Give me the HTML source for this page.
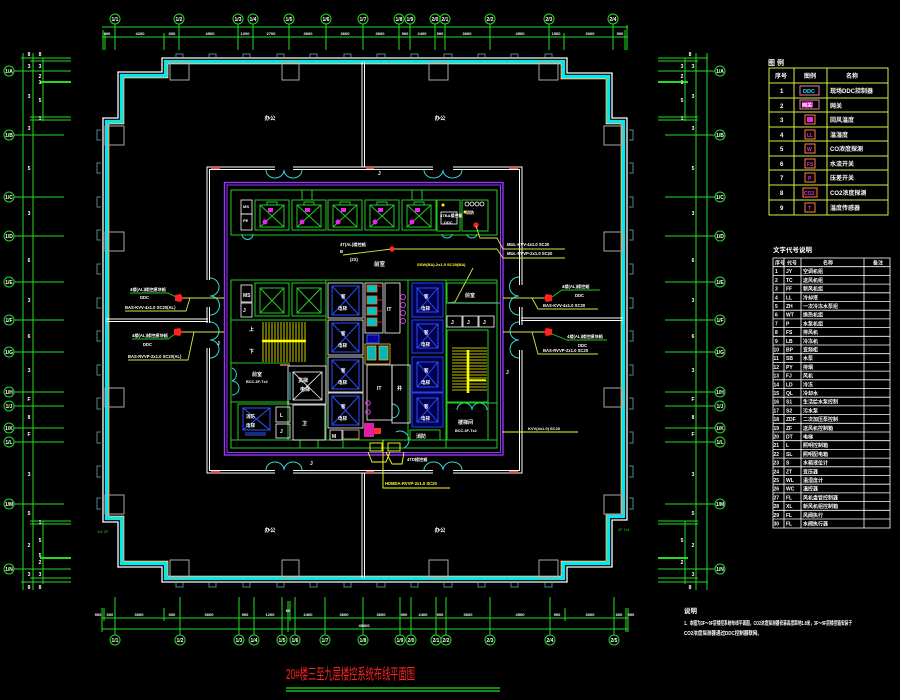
<!DOCTYPE html>
<html><head><meta charset="utf-8">
<style>
html,body{margin:0;padding:0;background:#000;width:900px;height:700px;overflow:hidden}
svg{display:block}
text{font-family:"Liberation Sans","Noto Sans CJK SC",sans-serif}
</style></head><body>
<svg width="900" height="700" viewBox="0 0 900 700" xmlns="http://www.w3.org/2000/svg">
<rect width="900" height="700" fill="#000"/>

<!-- ============ TOP DIMENSIONS ============ -->
<g stroke="#22dd22" stroke-width="1" fill="none">
  <line x1="102" y1="27" x2="628" y2="27"/>
  <line x1="102" y1="37" x2="628" y2="37"/>
  <line x1="103" y1="30" x2="103" y2="50"/><line x1="105" y1="33" x2="105" y2="50"/>
  <line x1="164" y1="33" x2="164" y2="50"/><line x1="564" y1="33" x2="564" y2="50"/>
  <line x1="625" y1="30" x2="625" y2="50"/><line x1="627" y1="25" x2="627" y2="50"/>
  <g>
    <line x1="115" y1="24" x2="115" y2="50"/><line x1="179" y1="24" x2="179" y2="50"/>
    <line x1="238" y1="24" x2="238" y2="50"/><line x1="253" y1="24" x2="253" y2="50"/>
    <line x1="289" y1="24" x2="289" y2="50"/><line x1="326" y1="24" x2="326" y2="50"/>
    <line x1="363" y1="24" x2="363" y2="50"/><line x1="399" y1="24" x2="399" y2="50"/>
    <line x1="410" y1="24" x2="410" y2="50"/><line x1="435" y1="24" x2="435" y2="50"/>
    <line x1="445" y1="24" x2="445" y2="50"/><line x1="490" y1="24" x2="490" y2="50"/>
    <line x1="549" y1="24" x2="549" y2="50"/><line x1="613" y1="24" x2="613" y2="50"/>
  </g>
  <g>
    <circle cx="115" cy="19" r="5"/><circle cx="179" cy="19" r="5"/><circle cx="238" cy="19" r="5"/>
    <circle cx="253" cy="19" r="5"/><circle cx="289" cy="19" r="5"/><circle cx="326" cy="19" r="5"/>
    <circle cx="363" cy="19" r="5"/><circle cx="399" cy="19" r="5"/><circle cx="410" cy="19" r="5"/>
    <circle cx="435" cy="19" r="5"/><circle cx="445" cy="19" r="5"/><circle cx="490" cy="19" r="5"/>
    <circle cx="549" cy="19" r="5"/><circle cx="613" cy="19" r="5"/>
  </g>
</g>
<g fill="#fff" font-size="5" font-weight="bold" text-anchor="middle">
  <text x="115" y="21">1/1</text><text x="179" y="21">1/2</text><text x="238" y="21">1/3</text>
  <text x="253" y="21">1/4</text><text x="289" y="21">1/5</text><text x="326" y="21">1/6</text>
  <text x="363" y="21">1/7</text><text x="399" y="21">1/8</text><text x="410" y="21">1/9</text>
  <text x="435" y="21">2/0</text><text x="445" y="21">2/1</text><text x="490" y="21">2/2</text>
  <text x="549" y="21">2/3</text><text x="613" y="21">2/4</text>
</g>
<g fill="#fff" font-size="4" font-weight="bold" text-anchor="middle">
  <text x="107" y="35">900</text><text x="140" y="35">4200</text><text x="172" y="35">600</text>
  <text x="210" y="35">4500</text><text x="245" y="35">1200</text><text x="271" y="35">2700</text>
  <text x="308" y="35">3600</text><text x="345" y="35">3600</text><text x="380" y="35">3600</text>
  <text x="405" y="35">900</text><text x="422" y="35">2400</text><text x="440" y="35">900</text>
  <text x="467" y="35">3600</text><text x="520" y="35">4500</text><text x="556" y="35">1500</text>
  <text x="590" y="35">3000</text><text x="620" y="35">900</text>
</g>

<!-- ============ BOTTOM DIMENSIONS ============ -->
<g stroke="#22dd22" stroke-width="1" fill="none">
  <line x1="102" y1="618" x2="628" y2="618"/>
  <line x1="102" y1="629" x2="628" y2="629"/>
  <line x1="102" y1="608" x2="102" y2="632"/><line x1="104" y1="608" x2="104" y2="621"/>
  <line x1="164" y1="608" x2="164" y2="621"/><line x1="288" y1="601" x2="288" y2="632"/>
  <line x1="290" y1="601" x2="290" y2="621"/><line x1="565" y1="608" x2="565" y2="621"/>
  <line x1="626" y1="608" x2="626" y2="632"/><line x1="628" y1="608" x2="628" y2="632"/>
  <g>
    <line x1="115" y1="597" x2="115" y2="635"/><line x1="180" y1="597" x2="180" y2="635"/>
    <line x1="239" y1="597" x2="239" y2="635"/><line x1="254" y1="597" x2="254" y2="635"/>
    <line x1="282" y1="597" x2="282" y2="635"/><line x1="295" y1="597" x2="295" y2="635"/>
    <line x1="325" y1="597" x2="325" y2="635"/><line x1="363" y1="597" x2="363" y2="635"/>
    <line x1="400" y1="597" x2="400" y2="635"/><line x1="411" y1="597" x2="411" y2="635"/>
    <line x1="436" y1="597" x2="436" y2="635"/><line x1="446" y1="597" x2="446" y2="635"/>
    <line x1="490" y1="597" x2="490" y2="635"/><line x1="550" y1="597" x2="550" y2="635"/>
    <line x1="614" y1="597" x2="614" y2="635"/>
  </g>
  <g>
    <circle cx="115" cy="640" r="5"/><circle cx="180" cy="640" r="5"/><circle cx="239" cy="640" r="5"/>
    <circle cx="254" cy="640" r="5"/><circle cx="282" cy="640" r="5"/><circle cx="295" cy="640" r="5"/>
    <circle cx="325" cy="640" r="5"/><circle cx="363" cy="640" r="5"/><circle cx="400" cy="640" r="5"/>
    <circle cx="411" cy="640" r="5"/><circle cx="436" cy="640" r="5"/><circle cx="446" cy="640" r="5"/>
    <circle cx="490" cy="640" r="5"/><circle cx="550" cy="640" r="5"/><circle cx="614" cy="640" r="5"/>
  </g>
</g>
<g fill="#fff" font-size="5" font-weight="bold" text-anchor="middle">
  <text x="115" y="642">1/1</text><text x="180" y="642">1/2</text><text x="239" y="642">1/3</text>
  <text x="254" y="642">1/4</text><text x="282" y="642">1/5</text><text x="295" y="642">1/6</text>
  <text x="325" y="642">1/7</text><text x="363" y="642">1/8</text><text x="400" y="642">1/9</text>
  <text x="411" y="642">2/0</text><text x="436" y="642">2/1</text><text x="446" y="642">2/2</text>
  <text x="490" y="642">2/3</text><text x="550" y="642">2/4</text><text x="614" y="642">2/5</text>
</g>
<g fill="#fff" font-size="4" font-weight="bold" text-anchor="middle">
  <text x="98" y="616">900</text><text x="110" y="616">600</text><text x="139" y="616">3000</text>
  <text x="172" y="616">600</text><text x="209" y="616">3600</text><text x="245" y="616">900</text>
  <text x="270" y="616">1200</text><text x="288" y="612">60</text><text x="308" y="616">2400</text>
  <text x="344" y="616">3600</text><text x="381" y="616">3600</text><text x="404" y="616">900</text>
  <text x="423" y="616">2400</text><text x="440" y="616">900</text><text x="468" y="616">3600</text>
  <text x="520" y="616">4500</text><text x="557" y="616">900</text><text x="590" y="616">3000</text>
  <text x="619" y="616">600</text><text x="631" y="616">900</text>
  <text x="364" y="627">45300</text>
</g>

<!-- ============ LEFT DIMENSIONS ============ -->
<g stroke="#22dd22" stroke-width="1" fill="none">
  <line x1="23" y1="53" x2="23" y2="590"/>
  <line x1="33" y1="53" x2="33" y2="590"/>
  <line x1="43" y1="58" x2="43" y2="121"/>
  <line x1="43" y1="521" x2="43" y2="584"/>
  <line x1="21" y1="58" x2="71" y2="58"/>
  <line x1="30" y1="61" x2="71" y2="61"/>
  <line x1="40" y1="82" x2="71" y2="82" stroke-width="2"/>
  <line x1="30" y1="117" x2="71" y2="117"/>
  <line x1="30" y1="120" x2="71" y2="120"/>
  <line x1="30" y1="521" x2="71" y2="521"/>
  <line x1="30" y1="524" x2="71" y2="524"/>
  <line x1="40" y1="558" x2="71" y2="558" stroke-width="2"/>
  <line x1="30" y1="578" x2="71" y2="578"/>
  <line x1="21" y1="582" x2="71" y2="582"/>
  <g>
    <line x1="14" y1="71" x2="71" y2="71"/><line x1="14" y1="135" x2="64" y2="135"/>
    <line x1="14" y1="197" x2="64" y2="197"/><line x1="14" y1="236" x2="64" y2="236"/>
    <line x1="14" y1="282" x2="64" y2="282"/><line x1="14" y1="320" x2="64" y2="320"/>
    <line x1="14" y1="352" x2="64" y2="352"/><line x1="14" y1="392" x2="64" y2="392"/>
    <line x1="14" y1="406" x2="64" y2="406"/><line x1="14" y1="428" x2="64" y2="428"/>
    <line x1="14" y1="442" x2="64" y2="442"/><line x1="14" y1="504" x2="64" y2="504"/>
    <line x1="14" y1="569" x2="71" y2="569"/>
  </g>
  <g>
    <circle cx="9" cy="71" r="5"/><circle cx="9" cy="135" r="5"/><circle cx="9" cy="197" r="5"/>
    <circle cx="9" cy="236" r="5"/><circle cx="9" cy="282" r="5"/><circle cx="9" cy="320" r="5"/>
    <circle cx="9" cy="352" r="5"/><circle cx="9" cy="392" r="5"/><circle cx="9" cy="406" r="5"/>
    <circle cx="9" cy="428" r="5"/><circle cx="9" cy="442" r="5"/><circle cx="9" cy="504" r="5"/>
    <circle cx="9" cy="569" r="5"/>
  </g>
</g>
<g fill="#fff" font-size="5" font-weight="bold" text-anchor="middle">
  <text x="9" y="73">1/A</text><text x="9" y="137">1/B</text><text x="9" y="199">1/C</text>
  <text x="9" y="238">1/D</text><text x="9" y="284">1/E</text><text x="9" y="322">1/F</text>
  <text x="9" y="354">1/G</text><text x="9" y="394">1/H</text><text x="9" y="408">1/J</text>
  <text x="9" y="430">1/K</text><text x="9" y="444">1/L</text><text x="9" y="506">1/M</text>
  <text x="9" y="571">1/N</text>
  <text x="29" y="56">8</text><text x="40" y="56">8</text><text x="29" y="68">3</text><text x="40" y="68">3</text>
  <text x="40" y="78">2</text><text x="40" y="84">1</text><text x="29" y="98">3</text><text x="40" y="102">5</text>
  <text x="40" y="120">1</text><text x="29" y="130">3</text><text x="29" y="170">5</text>
  <text x="29" y="215">3</text><text x="29" y="262">6</text><text x="29" y="302">3</text>
  <text x="29" y="338">6</text><text x="29" y="372">3</text>
  <text x="29" y="401">F</text><text x="29" y="419">8</text><text x="29" y="436">F</text>
  <text x="29" y="476">3</text><text x="29" y="515">5</text><text x="40" y="524">1</text>
  <text x="40" y="542">5</text><text x="29" y="547">2</text><text x="40" y="557">5</text>
  <text x="40" y="564">2</text><text x="29" y="576">3</text><text x="40" y="576">3</text>
  <text x="29" y="589">8</text><text x="40" y="589">8</text>
</g>

<!-- ============ RIGHT DIMENSIONS ============ -->
<g stroke="#22dd22" stroke-width="1" fill="none">
  <line x1="696" y1="53" x2="696" y2="590"/>
  <line x1="707" y1="53" x2="707" y2="590"/>
  <line x1="685" y1="58" x2="685" y2="121"/>
  <line x1="685" y1="521" x2="685" y2="584"/>
  <line x1="658" y1="58" x2="708" y2="58"/>
  <line x1="658" y1="61" x2="698" y2="61"/>
  <line x1="658" y1="82" x2="688" y2="82" stroke-width="2"/>
  <line x1="658" y1="117" x2="698" y2="117"/>
  <line x1="658" y1="120" x2="698" y2="120"/>
  <line x1="658" y1="521" x2="698" y2="521"/>
  <line x1="658" y1="524" x2="698" y2="524"/>
  <line x1="658" y1="558" x2="688" y2="558" stroke-width="2"/>
  <line x1="658" y1="578" x2="698" y2="578"/>
  <line x1="658" y1="582" x2="708" y2="582"/>
  <g>
    <line x1="658" y1="71" x2="715" y2="71"/><line x1="665" y1="135" x2="715" y2="135"/>
    <line x1="665" y1="197" x2="715" y2="197"/><line x1="665" y1="236" x2="715" y2="236"/>
    <line x1="665" y1="282" x2="715" y2="282"/><line x1="665" y1="320" x2="715" y2="320"/>
    <line x1="665" y1="352" x2="715" y2="352"/><line x1="665" y1="392" x2="715" y2="392"/>
    <line x1="665" y1="406" x2="715" y2="406"/><line x1="665" y1="428" x2="715" y2="428"/>
    <line x1="665" y1="442" x2="715" y2="442"/><line x1="665" y1="504" x2="715" y2="504"/>
    <line x1="658" y1="569" x2="715" y2="569"/>
  </g>
  <g>
    <circle cx="720" cy="71" r="5"/><circle cx="720" cy="135" r="5"/><circle cx="720" cy="197" r="5"/>
    <circle cx="720" cy="236" r="5"/><circle cx="720" cy="282" r="5"/><circle cx="720" cy="320" r="5"/>
    <circle cx="720" cy="352" r="5"/><circle cx="720" cy="392" r="5"/><circle cx="720" cy="406" r="5"/>
    <circle cx="720" cy="428" r="5"/><circle cx="720" cy="442" r="5"/><circle cx="720" cy="504" r="5"/>
    <circle cx="720" cy="569" r="5"/>
  </g>
</g>
<g fill="#fff" font-size="5" font-weight="bold" text-anchor="middle">
  <text x="720" y="73">1/A</text><text x="720" y="137">1/B</text><text x="720" y="199">1/C</text>
  <text x="720" y="238">1/D</text><text x="720" y="284">1/E</text><text x="720" y="322">1/F</text>
  <text x="720" y="354">1/G</text><text x="720" y="394">1/H</text><text x="720" y="408">1/J</text>
  <text x="720" y="430">1/K</text><text x="720" y="444">1/L</text><text x="720" y="506">1/M</text>
  <text x="720" y="571">1/N</text>
  <text x="690" y="56">8</text><text x="682" y="68">3</text><text x="693" y="68">3</text>
  <text x="682" y="78">2</text><text x="682" y="84">1</text><text x="693" y="98">3</text>
  <text x="682" y="102">5</text><text x="682" y="120">1</text><text x="693" y="130">3</text>
  <text x="693" y="170">5</text><text x="693" y="215">3</text><text x="693" y="262">6</text>
  <text x="693" y="302">3</text><text x="693" y="338">6</text><text x="693" y="372">3</text>
  <text x="693" y="401">F</text><text x="693" y="419">8</text><text x="693" y="436">F</text>
  <text x="693" y="476">3</text><text x="693" y="515">5</text><text x="682" y="542">5</text>
  <text x="693" y="547">2</text><text x="682" y="564">2</text><text x="693" y="576">3</text>
  <text x="690" y="589">8</text>
</g>

<!-- ============ BUILDING OUTER WALL ============ -->
<g stroke="#4f8a8a" stroke-width="1" fill="none">
  <path d="M176,57 V54 H183 V57 M209,57 V54 H216 V57 M243,57 V54 H250 V57 M277,57 V54 H284 V57 M310,57 V54 H317 V57 M344,57 V54 H351 V57 M377,57 V54 H385 V57 M411,57 V54 H418 V57 M444,57 V54 H452 V57 M478,57 V54 H485 V57 M511,57 V54 H518 V57 M545,57 V54 H552 V57"/>
  <path d="M176,583 V587 H183 V583 M209,583 V587 H216 V583 M243,583 V587 H250 V583 M277,583 V587 H284 V583 M310,583 V587 H317 V583 M344,583 V587 H351 V583 M377,583 V587 H385 V583 M411,583 V587 H418 V583 M444,583 V587 H452 V583 M478,583 V587 H485 V583 M511,583 V587 H518 V583 M545,583 V587 H552 V583"/>
  <path d="M101,130 H97 V140 H101 M101,163 H97 V173 H101 M101,197 H97 V207 H101 M101,230 H97 V240 H101 M101,264 H97 V274 H101 M101,298 H97 V308 H101 M101,331 H97 V341 H101 M101,365 H97 V375 H101 M101,398 H97 V409 H101 M101,432 H97 V443 H101 M101,466 H97 V477 H101 M101,498 H97 V509 H101"/>
  <path d="M629,130 H633 V140 H629 M629,163 H633 V173 H629 M629,197 H633 V207 H629 M629,230 H633 V240 H629 M629,264 H633 V274 H629 M629,298 H633 V308 H629 M629,331 H633 V341 H629 M629,365 H633 V375 H629 M629,398 H633 V409 H629 M629,432 H633 V443 H629 M629,466 H633 V477 H629 M629,498 H633 V509 H629"/>
</g>
<path d="M162,58 H567 V73 H612 V118 H627 V520 H612 V567 H567 V582 H162 V567 H118 V522 H103 V118 H118 V72 H162 Z" fill="none" stroke="#ffffff" stroke-width="1.3"/>
<path d="M165.5,61.5 H563.5 V76.5 H608.5 V121.5 H623.5 V516.5 H608.5 V563.5 H563.5 V578.5 H165.5 V563.5 H121.5 V518.5 H106.5 V121.5 H121.5 V75.5 H165.5 Z" fill="none" stroke="#00e8f0" stroke-width="3.2"/>
<path d="M167.8,63.8 H561.2 V78.8 H606.2 V123.8 H621.2 V514.2 H606.2 V561.2 H561.2 V576.2 H167.8 V561.2 H123.8 V516.2 H108.8 V123.8 H123.8 V77.8 H167.8 Z" fill="none" stroke="#ffffb0" stroke-width="1"/>

<g stroke="#a8a8a8" stroke-width="1" fill="none">
  <rect x="170" y="62" width="19" height="18"/><rect x="282" y="62" width="17" height="18"/>
  <rect x="429" y="62" width="19" height="18"/><rect x="539" y="62" width="19" height="18"/>
  <rect x="170" y="560" width="19" height="18"/><rect x="282" y="560" width="17" height="18"/>
  <rect x="429" y="560" width="19" height="18"/><rect x="539" y="560" width="19" height="18"/>
  <rect x="105" y="126" width="19" height="19"/><rect x="105" y="232" width="19" height="19"/>
  <rect x="105" y="388" width="19" height="19"/><rect x="105" y="495" width="19" height="19"/>
  <rect x="604" y="126" width="19" height="19"/><rect x="604" y="232" width="19" height="19"/>
  <rect x="604" y="388" width="19" height="19"/><rect x="604" y="495" width="19" height="19"/>
</g>

<g stroke="#ffffff" stroke-width="1" fill="none">
  <line x1="362" y1="62" x2="362" y2="167"/><line x1="364.5" y1="62" x2="364.5" y2="167"/>
  <line x1="362" y1="473" x2="362" y2="578"/><line x1="364.5" y1="473" x2="364.5" y2="578"/>
  <line x1="106" y1="319" x2="208" y2="319"/><line x1="106" y1="321.5" x2="208" y2="321.5"/>
  <line x1="521" y1="318" x2="623" y2="318"/><line x1="521" y1="320.5" x2="623" y2="320.5"/>
</g>

<g fill="#fff" font-size="5.5" font-weight="bold" text-anchor="middle">
  <text x="270" y="120">办公</text><text x="440" y="120">办公</text>
  <text x="270" y="532">办公</text><text x="440" y="532">办公</text>
</g>
<g fill="#22dd22" font-size="4">
  <text x="97" y="533">1/4 2F</text><text x="618" y="531">2F 1/4</text>
</g>

<!-- ============ CORE ============ -->
<g stroke="#ffffff" stroke-width="1" fill="none">
  <path d="M275,167 H207 V280 M207,307 V323 M207,348 V473 H275 M293,473 H433 M453,473 H522 V350 M522,325 V307 M522,285 V167 H453 M433,167 H293"/>
  <path d="M275,169.5 H209.5 V280 M209.5,307 V323 M209.5,348 V470.5 H275 M293,470.5 H433 M453,470.5 H519.5 V350 M519.5,325 V307 M519.5,285 V169.5 H453 M433,169.5 H293"/>
</g>
<g fill="#c85858">
  <rect x="211" y="166" width="9" height="3"/><rect x="366" y="166" width="8" height="3"/><rect x="509" y="166" width="9" height="3"/>
  <rect x="211" y="471" width="9" height="3"/><rect x="366" y="471" width="8" height="3"/><rect x="509" y="471" width="9" height="3"/>
</g>
<g stroke="#30d8d8" stroke-width="1" fill="none">
  <path d="M266,170 A9,8 0 0 0 284,170 A9,8 0 0 0 302,170"/>
  <path d="M424,170 A9.5,8 0 0 0 443,170 A9.5,8 0 0 0 462,170"/>
  <path d="M266,470 A9,8 0 0 1 284,470 A9,8 0 0 1 302,470"/>
  <path d="M424,470 A9.5,8 0 0 1 443,470 A9.5,8 0 0 1 462,470"/>
  <path d="M210,278 A9,9 0 0 1 210,296 A9,9 0 0 1 210,315"/>
  <path d="M210,322 A9,9 0 0 1 210,340 A9,9 0 0 1 210,358"/>
  <path d="M519,277 A9,9 0 0 0 519,296 A9,9 0 0 0 519,315"/>
  <path d="M519,322 A9,9 0 0 0 519,340 A9,9 0 0 0 519,358"/>
  <path d="M242,234 A5,5 0 0 0 253,234"/>
  <path d="M442,234 A5,4 0 0 0 452,234 M467,234 A5,4 0 0 0 477,234"/>
  <path d="M457,410 A7.5,7 0 0 1 472,410 A7.5,7 0 0 1 487,410"/>
  <path d="M232,368 A7,7 0 0 1 232,381 A7,7 0 0 1 232,395"/>
  <path d="M392,404 A7,7 0 0 1 392,418"/>
  <path d="M396,432 A8,8 0 0 1 404,448"/>
  <path d="M290,372 V400"/>
</g>

<rect x="224.5" y="182.5" width="278.5" height="272.5" fill="none" stroke="#9933ff" stroke-width="1.4"/>
<rect x="227" y="185" width="273.5" height="267.5" fill="none" stroke="#9933ff" stroke-width="1"/>

<g stroke="#22cc22" stroke-width="1" fill="none">
  <rect x="231" y="190" width="266" height="45"/>
  <rect x="302" y="190" width="10" height="10"/><rect x="412" y="190" width="10" height="10"/>
  <rect x="255" y="200" width="34" height="30"/><rect x="292" y="200" width="34" height="30"/>
  <rect x="328" y="200" width="34" height="30"/><rect x="365" y="200" width="34" height="30"/>
  <rect x="402" y="200" width="34" height="30"/>
  <rect x="260" y="205" width="24" height="22"/><rect x="297" y="205" width="24" height="22"/>
  <rect x="333" y="205" width="24" height="22"/><rect x="370" y="205" width="24" height="22"/>
  <rect x="407" y="205" width="24" height="22"/>
  <path d="M260,205 L284,227 M284,205 L260,227 M297,205 L321,227 M321,205 L297,227 M333,205 L357,227 M357,205 L333,227 M370,205 L394,227 M394,205 L370,227 M407,205 L431,227 M431,205 L407,227"/>
  <rect x="267" y="202" width="10" height="3"/><rect x="304" y="202" width="10" height="3"/>
  <rect x="340" y="202" width="10" height="3"/><rect x="377" y="202" width="10" height="3"/>
  <rect x="414" y="202" width="10" height="3"/>
  <rect x="437" y="200" width="23" height="31"/>
  <rect x="462" y="200" width="26" height="31"/>
</g>
<g stroke="#ffffff" stroke-width="0.8" fill="none">
  <rect x="241" y="200" width="11" height="14"/><rect x="241" y="214" width="11" height="16"/>
  <circle cx="467" cy="204" r="2"/><circle cx="472" cy="204" r="2"/><circle cx="477" cy="204" r="2"/><circle cx="482" cy="204" r="2"/>
  <rect x="441" y="212" width="16" height="12"/>
</g>
<g fill="#ee22ee">
  <rect x="268" y="208" width="5" height="4"/><circle cx="265" cy="222" r="2.5"/>
  <rect x="305" y="208" width="5" height="4"/><circle cx="302" cy="222" r="2.5"/>
  <rect x="341" y="208" width="5" height="4"/><circle cx="338" cy="222" r="2.5"/>
  <rect x="378" y="208" width="5" height="4"/><circle cx="375" cy="222" r="2.5"/>
  <rect x="415" y="208" width="5" height="4"/><circle cx="412" cy="222" r="2.5"/>
</g>
<circle cx="443" cy="205" r="1.5" fill="#ffff00"/><circle cx="465" cy="212" r="1.5" fill="#ffff00"/>
<circle cx="476" cy="225" r="2.6" fill="#ff2020"/>
<g fill="#fff" font-size="4" font-weight="bold">
  <text x="243" y="208">MS</text><text x="243" y="222">PE</text>
  <text x="440" y="217">4TBA楼控箱</text><text x="444" y="224">DDC</text>
  <text x="466" y="214">消防</text>
</g>

<g stroke="#d8e840" stroke-width="0.9" fill="none">
  <polyline points="392,249 497,249 503,258 565,258"/>
  <polyline points="476,226 480,238 497,238 503,249 565,249"/>
  <polyline points="343,255 392,249"/>
  <polyline points="473,268 455,302 448,303"/>
</g>
<line x1="448" y1="303" x2="500" y2="303" stroke="#8844ff" stroke-width="1.6"/>
<circle cx="392" cy="249" r="2.6" fill="#ff3020"/>
<g fill="#fff" font-size="4.2" font-weight="bold">
  <text x="340" y="246">4T(AL)楼控箱</text><text x="340" y="253">B</text>
  <text x="350" y="261">(2X)</text>
  <text x="507" y="246">MUL-KVV-4x1.0 SC20</text>
  <text x="507" y="255">MUL-RVVP-2x1.0 SC20</text>
</g>
<text x="374" y="266" fill="#fff" font-size="5.5" font-weight="bold">前室</text>
<text x="417" y="266" fill="#ffff40" font-size="4" font-weight="bold">SSW(BA)-2x1.5 SC20(BA)</text>

<g stroke="#22cc22" stroke-width="1" fill="none">
  <rect x="231" y="280" width="266" height="168"/>
  <line x1="231" y1="440" x2="497" y2="440"/>
  <rect x="255" y="283" width="34" height="33"/><rect x="292" y="283" width="34" height="33"/>
  <rect x="260" y="288" width="24" height="25"/><rect x="297" y="288" width="24" height="25"/>
  <path d="M260,288 L284,313 M284,288 L260,313 M297,288 L321,313 M321,288 L297,313"/>
  <line x1="231" y1="320" x2="326" y2="320"/>
  <line x1="231" y1="363" x2="290" y2="363"/>
  <line x1="326" y1="280" x2="326" y2="440"/>
  <line x1="231" y1="402" x2="290" y2="402"/>
  <rect x="238" y="404" width="50" height="36"/>
  <line x1="408" y1="280" x2="408" y2="440"/>
  <line x1="446" y1="280" x2="446" y2="448"/>
  <rect x="447" y="283" width="50" height="20"/>
  <rect x="447" y="330" width="41" height="72"/>
  <rect x="447" y="403" width="50" height="37"/>
  <line x1="488" y1="330" x2="488" y2="440"/>
  <rect x="410" y="430" width="30" height="10"/>
  <path d="M300,440 V448 M318,440 V448 M343,440 V448"/>
</g>
<g stroke="#ffffff" stroke-width="0.8" fill="none">
  <rect x="241" y="285" width="11" height="17"/><rect x="241" y="303" width="11" height="14"/>
  <rect x="288" y="366" width="38" height="38"/>
  <rect x="293" y="372" width="29" height="28"/>
  <path d="M293,372 L322,400 M322,372 L293,400"/>
  <rect x="276" y="407" width="14" height="15"/><rect x="276" y="424" width="14" height="14"/>
  <rect x="293" y="405" width="32" height="35"/>
  <rect x="328" y="283" width="35" height="35"/><rect x="328" y="320" width="35" height="35"/>
  <rect x="328" y="357" width="35" height="35"/><rect x="328" y="393" width="35" height="35"/>
  <rect x="365" y="283" width="18" height="50"/>
  <rect x="385" y="283" width="15" height="50"/>
  <rect x="367" y="365" width="25" height="55"/><rect x="392" y="365" width="18" height="58"/>
  <rect x="447" y="316" width="15" height="11"/><rect x="463" y="316" width="15" height="11"/><rect x="479" y="316" width="15" height="11"/>
  <rect x="330" y="430" width="12" height="10"/>
</g>
<rect x="343" y="430" width="16" height="9" fill="none" stroke="#e8b0a0" stroke-width="0.8"/>
<g stroke="#ffff00" stroke-width="0.8">
  <path d="M263,322 V362 M266,322 V362 M269,322 V362 M272,322 V362 M275,322 V362 M278,322 V362 M281,322 V362 M284,322 V362 M287,322 V362 M290,322 V362 M293,322 V362 M296,322 V362 M299,322 V362 M302,322 V362 M305,322 V362"/>
  <path d="M452,348 H487 M452,351 H487 M452,354 H487 M452,357 H487 M452,360 H487 M452,363 H487 M452,366 H487 M452,369 H487 M452,372 H487 M452,375 H487 M452,378 H487 M452,381 H487 M452,384 H487 M452,387 H487 M452,390 H487"/>
</g>
<line x1="262" y1="341" x2="306" y2="341" stroke="#ffff00" stroke-width="2.6"/>
<line x1="468" y1="350" x2="468" y2="393" stroke="#ffff00" stroke-width="2.6"/>
<line x1="468" y1="380" x2="486" y2="380" stroke="#ffff00" stroke-width="1.6"/>
<line x1="280" y1="365" x2="290" y2="365" stroke="#e07070" stroke-width="1.5"/>
<g fill="#fff" font-size="5" font-weight="bold">
  <text x="249" y="331">上</text><text x="249" y="353">下</text>
  <text x="252" y="376">前室</text><text x="246" y="383" font-size="3.8">BCC-3F-Tx2</text>
  <text x="298" y="382">货梯</text><text x="300" y="391">电梯</text>
  <text x="243" y="297">MS</text><text x="243" y="312">J</text>
  <text x="280" y="417">L</text><text x="280" y="433">J</text>
  <text x="302" y="425">卫</text>
  <text x="332" y="438">M</text>
  <text x="465" y="297">前室</text>
  <text x="451" y="324">J</text><text x="467" y="324">J</text><text x="483" y="324">J</text>
  <text x="458" y="424">楼梯间</text><text x="455" y="432" font-size="3.8">BCC-3F-Tx2</text>
  <text x="387" y="311">IT</text>
  <text x="377" y="390">IT</text><text x="397" y="390">井</text>
  <text x="378" y="175">J</text><text x="310" y="465">J</text><text x="506" y="374">J</text><text x="217" y="345">J</text>
  <text x="416" y="438">消防</text>
</g>
<g stroke="#3355ff" stroke-width="1" fill="none">
  <rect x="243" y="408" width="27" height="22"/>
  <path d="M243,408 L270,430 M270,408 L243,430"/>
  <line x1="245" y1="433" x2="266" y2="433"/><line x1="245" y1="435" x2="266" y2="435"/>
</g>
<text x="246" y="418" fill="#fff" font-size="4.5" font-weight="bold">消防</text>
<text x="246" y="427" fill="#fff" font-size="4.5" font-weight="bold">电梯</text>
<g stroke="#2a4cff" stroke-width="1" fill="none">
  <rect x="332" y="286" width="27" height="29"/><path d="M332,286 L359,315 M359,286 L332,315"/>
  <rect x="332" y="323" width="27" height="29"/><path d="M332,323 L359,352 M359,323 L332,352"/>
  <rect x="332" y="360" width="27" height="29"/><path d="M332,360 L359,389 M359,360 L332,389"/>
  <rect x="332" y="396" width="27" height="29"/><path d="M332,396 L359,425 M359,396 L332,425"/>
</g>
<g fill="#000050" stroke="#2244ee" stroke-width="1">
  <rect x="412" y="283" width="31" height="34"/><rect x="412" y="320" width="31" height="33"/>
  <rect x="412" y="357" width="31" height="35"/><rect x="412" y="393" width="31" height="34"/>
</g>
<g stroke="#3355ff" stroke-width="0.9" fill="none">
  <rect x="417" y="288" width="21" height="24"/><path d="M417,288 L438,312 M438,288 L417,312"/>
  <rect x="417" y="324" width="21" height="24"/><path d="M417,324 L438,348 M438,324 L417,348"/>
  <rect x="417" y="362" width="21" height="25"/><path d="M417,362 L438,387 M438,362 L417,387"/>
  <rect x="417" y="398" width="21" height="24"/><path d="M417,398 L438,422 M438,398 L417,422"/>
</g>
<g fill="#fff" font-size="4.5" font-weight="bold">
  <text x="341" y="298">客</text><text x="338" y="310">电梯</text>
  <text x="341" y="335">客</text><text x="338" y="347">电梯</text>
  <text x="341" y="372">客</text><text x="338" y="384">电梯</text>
  <text x="341" y="408">客</text><text x="338" y="420">电梯</text>
  <text x="424" y="298">客</text><text x="421" y="310">电梯</text>
  <text x="424" y="334">客</text><text x="421" y="346">电梯</text>
  <text x="424" y="372">客</text><text x="421" y="384">电梯</text>
  <text x="424" y="408">客</text><text x="421" y="420">电梯</text>
</g>
<g stroke="#ff6020" stroke-width="0.8" fill="#00c4c4">
  <rect x="367" y="285" width="10" height="7"/><rect x="367" y="296" width="10" height="8"/>
  <rect x="367" y="307" width="10" height="8"/><rect x="367" y="318" width="10" height="8"/>
</g>
<g stroke="#ff3010" stroke-width="0.8">
  <path d="M377,286 H383 M377,300 H383 M377,311 H383 M377,322 H383"/>
</g>
<rect x="367" y="335" width="12" height="8" fill="#0000a0" stroke="#3355ff"/>
<rect x="365" y="344" width="25" height="20" fill="none" stroke="#e8d030" stroke-width="0.8"/>
<g stroke="#ffa020" stroke-width="0.8" fill="#00b8b8">
  <rect x="367" y="346" width="9" height="14"/><rect x="379" y="346" width="9" height="14"/>
</g>
<g stroke="#dd33dd" stroke-width="1" fill="none">
  <circle cx="403" cy="297" r="2.5"/><circle cx="403" cy="305" r="2.5"/>
  <circle cx="403" cy="313" r="2.5"/><circle cx="403" cy="321" r="2.5"/>
  <circle cx="368" cy="403" r="2.3"/><circle cx="368" cy="412" r="2.3"/>
</g>
<rect x="364" y="423" width="10" height="14" fill="#e020a0"/>
<rect x="374" y="428" width="7" height="6" fill="#ff3030"/>
<g stroke="#ffff20" stroke-width="0.9" fill="none">
  <rect x="370" y="443" width="12" height="8"/><rect x="388" y="443" width="12" height="8"/>
  <path d="M368,452 L372,462 H386 L390,452 M386,452 L392,464 H402 L404,452"/>
</g>
<g stroke="#ffff20" stroke-width="0.9" fill="none">
  <polyline points="383,440 383,488 450,488"/>
  <line x1="502" y1="432" x2="578" y2="432"/>
</g>
<text x="385" y="485" fill="#ffff30" font-size="4.2" font-weight="bold">HDMDA-RVVP-2x1.0 SC20</text>
<text x="407" y="461" fill="#fff" font-size="4.2" font-weight="bold">4TD楼控箱</text>
<text x="528" y="430" fill="#fff" font-size="4" font-weight="bold">KVV(4x1.0) SC20</text>

<!-- ============ LEFT DEVICES ============ -->
<g stroke="#d8e840" stroke-width="0.9" fill="none">
  <line x1="182" y1="298" x2="224" y2="298"/>
  <polyline points="190,298 186,311 125,311"/>
  <line x1="181" y1="332" x2="224" y2="332"/>
  <polyline points="194,332 188,360 128,360"/>
</g>
<g stroke="#22cc22" stroke-width="0.9" fill="none">
  <polyline points="176,297 168,293 130,293"/>
  <polyline points="175,334 168,339 132,339"/>
</g>
<polygon points="175,295 181,294 183,298 181,302 175,301" fill="#ff2020"/>
<polygon points="174,329 180,328 182,332 180,336 174,335" fill="#ff2020"/>
<g fill="#fff" font-size="4.2" font-weight="bold">
  <text x="130" y="291">4楼(AL)楼控模块箱</text><text x="140" y="299">DDC</text>
  <text x="125" y="309">BAS-KVV-4x1.0 SC20(AL)</text>
  <text x="132" y="337">4楼(AL)楼控模块箱</text><text x="143" y="346">DDC</text>
  <text x="128" y="358">BAS-RVVP-2x1.0 SC20(AL)</text>
</g>

<!-- ============ RIGHT DEVICES ============ -->
<g stroke="#d8e840" stroke-width="0.9" fill="none">
  <line x1="503" y1="298" x2="546" y2="298"/>
  <polyline points="532,298 538,309 598,309"/>
  <line x1="503" y1="332" x2="546" y2="332"/>
  <polyline points="532,332 538,354 598,354"/>
</g>
<g stroke="#22cc22" stroke-width="0.9" fill="none">
  <polyline points="552,297 562,290 600,290"/>
  <polyline points="552,334 567,340 607,340"/>
</g>
<polygon points="552,295 546,294 544,298 546,302 552,301" fill="#ff2020"/>
<polygon points="552,329 546,328 544,332 546,336 552,335" fill="#ff2020"/>
<g fill="#fff" font-size="4.2" font-weight="bold">
  <text x="562" y="288">4楼(AL)楼控箱</text><text x="575" y="297">DDC</text>
  <text x="543" y="307">BAS-KVV-4x1.0 SC20</text>
  <text x="567" y="338">4楼(AL)楼控模块箱</text><text x="578" y="347">DDC</text>
  <text x="543" y="352">BAS-RVVP-2x1.0 SC20</text>
</g>

<!-- ============ LEGEND TABLE ============ -->
<text x="768" y="65" fill="#fff" font-size="7" font-weight="bold">图 例</text>
<g stroke="#d4f040" stroke-width="1" fill="none">
  <rect x="769" y="68" width="119" height="147"/>
  <path d="M769,83 H888 M769,98 H888 M769,112 H888 M769,127 H888 M769,141 H888 M769,156 H888 M769,170 H888 M769,185 H888 M769,200 H888"/>
  <path d="M794,68 V215 M827,68 V215"/>
</g>
<g fill="#fff" font-size="6" font-weight="bold">
  <text x="775" y="78">序号</text><text x="804" y="78">图例</text><text x="846" y="78">名称</text>
  <text x="780" y="93">1</text><text x="780" y="108">2</text><text x="780" y="122">3</text>
  <text x="780" y="137">4</text><text x="780" y="151">5</text><text x="780" y="166">6</text>
  <text x="780" y="180">7</text><text x="780" y="195">8</text><text x="780" y="210">9</text>
  <text x="830" y="93">现场DDC控制器</text><text x="830" y="108">网关</text>
  <text x="830" y="122">回风温度</text><text x="830" y="137">温湿度</text>
  <text x="830" y="151">CO浓度探测</text><text x="830" y="166">水流开关</text>
  <text x="830" y="180">压差开关</text><text x="830" y="195">CO2浓度探测</text>
  <text x="830" y="210">温度传感器</text>
</g>
<rect x="800" y="86" width="19" height="9" fill="none" stroke="#e080a0" stroke-width="1"/>
<text x="803" y="93" fill="#30e0ff" font-size="5.5" font-weight="bold">DDC</text>
<rect x="800" y="100" width="19" height="9" fill="none" stroke="#e080a0" stroke-width="1"/>
<rect x="802" y="101.5" width="11" height="6" fill="#dd22cc"/>
<text x="802" y="107" fill="#fff" font-size="5" font-weight="bold">网关</text>
<g stroke="#ff8040" stroke-width="1" fill="none">
  <rect x="805" y="115" width="10" height="9"/><rect x="805" y="130" width="10" height="9"/>
  <rect x="805" y="144" width="10" height="9"/><rect x="805" y="159" width="10" height="9"/>
  <rect x="805" y="173" width="10" height="9"/><rect x="803" y="188" width="14" height="9"/>
  <rect x="805" y="203" width="10" height="9"/>
</g>
<g fill="#ee22ee" font-size="5" font-weight="bold">
  <rect x="807" y="117" width="6" height="5"/>
  <text x="807" y="137">LL</text><text x="807" y="151">W</text><text x="807" y="166">FS</text>
  <text x="808" y="180">P</text><text x="804" y="195">CO2</text><text x="808" y="210">T</text>
</g>

<!-- ============ CODE TABLE ============ -->
<text x="773" y="252" fill="#fff" font-size="6.5" font-weight="bold">文字代号说明</text>
<g stroke="#ffffff" stroke-width="0.8" fill="none">
  <rect x="773" y="258" width="117" height="270"/>
  <path d="M784,258 V528 M801,258 V528 M864,258 V528"/>
  <path d="M773,266.7 H890 M773,275.4 H890 M773,284.1 H890 M773,292.8 H890 M773,301.5 H890 M773,310.2 H890 M773,318.9 H890 M773,327.6 H890 M773,336.3 H890 M773,345 H890 M773,353.7 H890 M773,362.4 H890 M773,371.1 H890 M773,379.8 H890 M773,388.5 H890 M773,397.2 H890 M773,405.9 H890 M773,414.6 H890 M773,423.3 H890 M773,432 H890 M773,440.7 H890 M773,449.4 H890 M773,458.1 H890 M773,466.8 H890 M773,475.5 H890 M773,484.2 H890 M773,492.9 H890 M773,501.6 H890 M773,510.3 H890 M773,519 H890"/>
</g>
<g fill="#fff" font-size="5" font-weight="bold">
  <text x="775" y="264.5">序号</text><text x="787" y="264.5">代号</text><text x="823" y="264.5">名称</text><text x="873" y="264.5">备注</text>
  <text x="775" y="273.2">1</text><text x="786" y="273.2">JY</text><text x="803" y="273.2">空调机组</text>
  <text x="775" y="281.9">2</text><text x="786" y="281.9">TC</text><text x="803" y="281.9">送风机组</text>
  <text x="775" y="290.6">3</text><text x="786" y="290.6">FF</text><text x="803" y="290.6">新风机组</text>
  <text x="775" y="299.3">4</text><text x="786" y="299.3">LL</text><text x="803" y="299.3">冷却塔</text>
  <text x="775" y="308">5</text><text x="786" y="308">ZH</text><text x="803" y="308">一次冷冻水泵组</text>
  <text x="775" y="316.7">6</text><text x="786" y="316.7">WT</text><text x="803" y="316.7">换热机组</text>
  <text x="775" y="325.4">7</text><text x="786" y="325.4">P</text><text x="803" y="325.4">水泵机组</text>
  <text x="775" y="334.1">8</text><text x="786" y="334.1">FS</text><text x="803" y="334.1">排风机</text>
  <text x="775" y="342.8">9</text><text x="786" y="342.8">LB</text><text x="803" y="342.8">冷冻机</text>
  <text x="773.5" y="351.5">10</text><text x="786" y="351.5">BP</text><text x="803" y="351.5">变频柜</text>
  <text x="773.5" y="360.2">11</text><text x="786" y="360.2">SB</text><text x="803" y="360.2">水泵</text>
  <text x="773.5" y="368.9">12</text><text x="786" y="368.9">PY</text><text x="803" y="368.9">排烟</text>
  <text x="773.5" y="377.6">13</text><text x="786" y="377.6">FJ</text><text x="803" y="377.6">风机</text>
  <text x="773.5" y="386.3">14</text><text x="786" y="386.3">LD</text><text x="803" y="386.3">冷冻</text>
  <text x="773.5" y="395">15</text><text x="786" y="395">QL</text><text x="803" y="395">冷却水</text>
  <text x="773.5" y="403.7">16</text><text x="786" y="403.7">S1</text><text x="803" y="403.7">生活给水泵控制</text>
  <text x="773.5" y="412.4">17</text><text x="786" y="412.4">S2</text><text x="803" y="412.4">污水泵</text>
  <text x="773.5" y="421.1">18</text><text x="786" y="421.1">ZDF</text><text x="803" y="421.1">二次加压泵控制</text>
  <text x="773.5" y="429.8">19</text><text x="786" y="429.8">ZF</text><text x="803" y="429.8">送风机控制箱</text>
  <text x="773.5" y="438.5">20</text><text x="786" y="438.5">DT</text><text x="803" y="438.5">电梯</text>
  <text x="773.5" y="447.2">21</text><text x="786" y="447.2">L</text><text x="803" y="447.2">照明控制箱</text>
  <text x="773.5" y="455.9">22</text><text x="786" y="455.9">SL</text><text x="803" y="455.9">照明配电箱</text>
  <text x="773.5" y="464.6">23</text><text x="786" y="464.6">S</text><text x="803" y="464.6">水箱液位计</text>
  <text x="773.5" y="473.3">24</text><text x="786" y="473.3">ZT</text><text x="803" y="473.3">变压器</text>
  <text x="773.5" y="482">25</text><text x="786" y="482">WL</text><text x="803" y="482">温湿度计</text>
  <text x="773.5" y="490.7">26</text><text x="786" y="490.7">WC</text><text x="803" y="490.7">温控器</text>
  <text x="773.5" y="499.4">27</text><text x="786" y="499.4">FL</text><text x="803" y="499.4">风机盘管控制器</text>
  <text x="773.5" y="508.1">28</text><text x="786" y="508.1">XL</text><text x="803" y="508.1">新风机组控制箱</text>
  <text x="773.5" y="516.8">29</text><text x="786" y="516.8">FL</text><text x="803" y="516.8">风阀执行</text>
  <text x="773.5" y="525.5">30</text><text x="786" y="525.5">FL</text><text x="803" y="525.5">水阀执行器</text>
</g>

<!-- ============ NOTES ============ -->
<g fill="#fff" font-weight="bold">
  <text x="684" y="613" font-size="6.5">说明</text>
  <text x="684" y="625" font-size="5.5" textLength="168" lengthAdjust="spacingAndGlyphs">1、本图为3F～9F层楼控系统布线平面图，CO2浓度探测器安装高度距地1.8米，3F～9F层楼控箱安装于</text>
  <text x="684" y="635" font-size="5.5" textLength="78" lengthAdjust="spacingAndGlyphs">CO2浓度探测器通过DDC控制器联网。</text>
</g>

<!-- ============ TITLE ============ -->
<text x="286" y="679" fill="#ff2020" font-size="15" textLength="129" lengthAdjust="spacingAndGlyphs">20#楼三至九层楼控系统布线平面图</text>
<line x1="286" y1="688" x2="500" y2="688" stroke="#22dd22" stroke-width="1.2"/>
<line x1="286" y1="691" x2="500" y2="691" stroke="#22dd22" stroke-width="1.2"/>
</svg>
</body></html>
